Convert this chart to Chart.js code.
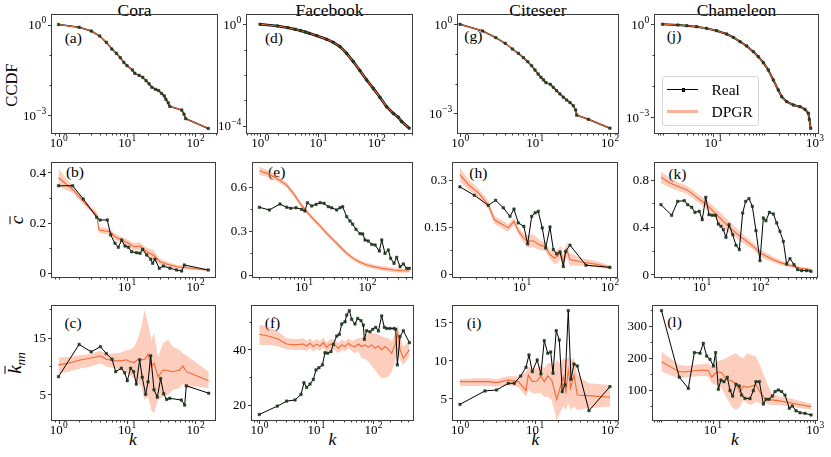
<!DOCTYPE html>
<html>
<head>
<meta charset="utf-8">
<title>Real vs DPGR degree statistics</title>
<script src="https://cdn.jsdelivr.net/npm/chart.js@4.4.1/dist/chart.umd.min.js"></script>
<style>
  html, body { margin: 0; padding: 0; background: #fff; }
  #fig { position: relative; width: 831px; height: 457px; overflow: hidden;
         font-family: "Liberation Serif", "DejaVu Serif", serif; color: #000; }
  #fig canvas { position: absolute; }
  .tt { position: absolute; top: 2px; font-size: 17.5px; line-height: 1; transform: translateX(-50%); white-space: nowrap; }
  .pl { position: absolute; font-size: 15.5px; line-height: 1; transform: translateX(-50%); }
  .yl { position: absolute; line-height: 1; white-space: nowrap; transform: translate(-50%, -50%) rotate(-90deg); }
  .xl { position: absolute; top: 431px; font-size: 17.5px; font-style: italic; line-height: 1; transform: translateX(-50%); }
  .ov { display: inline-block; border-top: 1.2px solid #000; line-height: 0.58em; }
  .ovk { display: inline-block; border-top: 1.2px solid #000; line-height: 0.9em; }
  .sub { font-size: 0.7em; position: relative; top: 0.3em; }
  #leg { position: absolute; left: 662px; top: 76px; width: 97px; height: 50px; box-sizing: border-box;
         border: 1px solid #d5d5d5; border-radius: 3px; background: rgba(255,255,255,0.85); }
  #leg div { position: absolute; }
  .lt { font-size: 15.5px; line-height: 1; }
</style>
</head>
<body>
<div id="fig">
  <div class="tt" style="left:134.5px">Cora</div>
  <div class="tt" style="left:329.5px">Facebook</div>
  <div class="tt" style="left:538px">Citeseer</div>
  <div class="tt" style="left:736.5px">Chameleon</div>

  <div class="yl" style="left:12px;top:85px;font-size:16.6px">CCDF</div>
  <div class="yl" style="left:16px;top:220px;font-size:19px"><span class="ov"><i>c</i></span></div>
  <div class="yl" style="left:14px;top:363px;font-size:19px"><span class="ovk"><i>k</i></span><i class="sub">nn</i></div>

  <div class="xl" style="left:133px">k</div>
  <div class="xl" style="left:332.5px">k</div>
  <div class="xl" style="left:535.5px">k</div>
  <div class="xl" style="left:735px">k</div>

  <div class="pl" style="left:73.3px;top:29.7px">(a)</div>
  <div class="pl" style="left:75px;top:164px">(b)</div>
  <div class="pl" style="left:73px;top:314.7px">(c)</div>
  <div class="pl" style="left:274px;top:29.7px">(d)</div>
  <div class="pl" style="left:276.7px;top:164px">(e)</div>
  <div class="pl" style="left:272.5px;top:314.7px">(f)</div>
  <div class="pl" style="left:473.3px;top:28.2px">(g)</div>
  <div class="pl" style="left:478.3px;top:165.4px">(h)</div>
  <div class="pl" style="left:474px;top:314.7px">(i)</div>
  <div class="pl" style="left:674px;top:28.2px">(j)</div>
  <div class="pl" style="left:677.5px;top:166.2px">(k)</div>
  <div class="pl" style="left:674.5px;top:314px">(l)</div>
</div>

<script>
// ---------- data ----------
// top row: CCDF (the DPGR curve lies on the real one)
const coraCcdfK = [1, 2, 3, 4, 5, 6, 7, 8, 9, 10, 12, 13, 15, 17, 19, 21, 23, 26, 29, 32, 35, 37, 40, 42, 63, 68, 72, 154];
const coraCcdfReal = [1, 0.807, 0.61, 0.417, 0.257, 0.155, 0.112, 0.08, 0.056, 0.044, 0.0316, 0.0245, 0.021, 0.018, 0.014, 0.011, 0.0085, 0.0073, 0.0066, 0.0053, 0.0044, 0.0034, 0.0026, 0.002, 0.0015, 0.0011, 0.00078, 0.00037];
const coraCcdfDpgr = coraCcdfReal;

const fbCcdfK = [1, 2, 3, 4, 5, 6, 7, 9.4, 13.9, 18.1, 23.5, 30.6, 39.8, 51.9, 67.5, 87.7, 114, 148, 194, 235, 269, 363];
const fbCcdfReal = [1, 0.857, 0.736, 0.635, 0.562, 0.497, 0.44, 0.357, 0.256, 0.195, 0.132, 0.072, 0.034, 0.0149, 0.0064, 0.003, 0.00133, 0.00057, 0.00031, 0.00022, 0.000148, 0.0000812];
const fbCcdfDpgr = fbCcdfReal;

const citeCcdfK = [1, 2, 3, 4, 5, 6, 7, 8, 9, 10, 11, 12, 13, 14, 16, 17.5, 19.4, 21.5, 23.9, 26.4, 29.3, 32.4, 34.8, 36, 51.4, 100];
const citeCcdfReal = [1, 0.594, 0.355, 0.229, 0.147, 0.105, 0.075, 0.055, 0.04, 0.0288, 0.0211, 0.0163, 0.0133, 0.0108, 0.0095, 0.0075, 0.0058, 0.0045, 0.0035, 0.0028, 0.0023, 0.0018, 0.0013, 0.00087, 0.00063, 0.000315];
const citeCcdfDpgr = citeCcdfReal;

const chamCcdfK = [1, 2, 3, 4.7, 7.4, 11.6, 18.3, 24.8, 33.6, 45.4, 61.4, 76.9, 96.6, 121, 152, 190, 222, 278, 376, 509, 638, 743, 777, 826];
const chamCcdfReal = [1, 0.95, 0.9, 0.84, 0.74, 0.62, 0.486, 0.38, 0.275, 0.2, 0.131, 0.09, 0.058, 0.0336, 0.016, 0.0076, 0.0046, 0.0032, 0.0025, 0.0022, 0.0018, 0.00135, 0.00086, 0.00044];
const chamCcdfDpgr = chamCcdfReal;

// middle row: mean clustering coefficient
const coraClustK = [1.0, 1.61, 2.3, 3.61, 4.04, 5.16, 5.78, 6.68, 7.47, 8.36, 9.35, 10.5, 11.7, 13.8, 15.5, 16.9, 19.4, 22.2, 23.7, 25.6, 29.6, 33.9, 42.4, 53.1, 62.8, 68.7, 154];
const coraClustReal = [0.347, 0.347, 0.294, 0.221, 0.21, 0.21, 0.15, 0.117, 0.101, 0.13, 0.106, 0.101, 0.083, 0.079, 0.077, 0.093, 0.07, 0.053, 0.037, 0.053, 0.017, 0.026, 0.017, 0.01, 0.006, 0.03, 0.01];
const coraClustDpgrK = [1.0, 1.64, 2.58, 3.61, 3.9, 5.65, 6.68, 8.36, 10.5, 12.4, 15.5, 19.4, 24.2, 30.3, 37.9, 53.1, 74.3, 116, 154];
const coraClustDpgr = [0.379, 0.33, 0.27, 0.23, 0.17, 0.163, 0.143, 0.13, 0.117, 0.103, 0.106, 0.083, 0.07, 0.043, 0.034, 0.023, 0.019, 0.013, 0.01];
const coraClustHi = [0.415, 0.342, 0.281, 0.241, 0.182, 0.175, 0.155, 0.143, 0.13, 0.118, 0.121, 0.099, 0.092, 0.055, 0.044, 0.031, 0.025, 0.018, 0.015];
const coraClustLo = [0.343, 0.318, 0.259, 0.219, 0.158, 0.151, 0.131, 0.117, 0.104, 0.088, 0.091, 0.067, 0.048, 0.031, 0.024, 0.015, 0.013, 0.008, 0.005];

const fbClustK = [2.0, 2.87, 4.22, 5.38, 6.22, 7.54, 9.25, 10.4, 11.4, 13.3, 15.6, 18, 20.8, 24.3, 27.4, 32.9, 37.1, 40.8, 47.2, 53.2, 58.6, 66.2, 76.5, 84.3, 91.7, 103, 117, 132, 154, 168, 189, 213, 232, 262, 288, 326, 367, 414, 456];
const fbClustReal = [0.46, 0.442, 0.482, 0.46, 0.453, 0.457, 0.446, 0.435, 0.491, 0.469, 0.48, 0.491, 0.487, 0.464, 0.457, 0.442, 0.457, 0.464, 0.396, 0.367, 0.346, 0.31, 0.281, 0.279, 0.238, 0.231, 0.208, 0.204, 0.163, 0.238, 0.147, 0.17, 0.113, 0.079, 0.12, 0.057, 0.075, 0.045, 0.045];
const fbClustDpgrK = [2.0, 2.61, 3.74, 5.38, 6.84, 8.71, 11.1, 14.1, 18, 22.9, 29.1, 37.1, 47.2, 60.1, 76.5, 97.5, 124, 178, 256, 367, 456];
const fbClustDpgr = [0.709, 0.691, 0.657, 0.611, 0.555, 0.487, 0.43, 0.38, 0.333, 0.283, 0.238, 0.192, 0.147, 0.113, 0.086, 0.068, 0.057, 0.043, 0.034, 0.029, 0.027];
const fbClustHi = [0.737, 0.715, 0.677, 0.629, 0.573, 0.504, 0.446, 0.395, 0.348, 0.298, 0.253, 0.207, 0.162, 0.128, 0.101, 0.083, 0.072, 0.059, 0.05, 0.043, 0.039];
const fbClustLo = [0.681, 0.667, 0.637, 0.593, 0.537, 0.47, 0.414, 0.365, 0.318, 0.268, 0.223, 0.177, 0.132, 0.098, 0.071, 0.053, 0.042, 0.027, 0.018, 0.015, 0.015];

const citeClustK = [1.97, 2.87, 4.14, 5.02, 6.14, 7.31, 8.11, 9.08, 10.5, 11.6, 12.9, 14.1, 15.3, 17.0, 18.6, 20.8, 22.7, 24.8, 27, 29.5, 31.3, 35.1, 53.4, 100];
const citeClustReal = [0.278, 0.251, 0.219, 0.235, 0.211, 0.184, 0.207, 0.163, 0.152, 0.096, 0.184, 0.195, 0.2, 0.147, 0.083, 0.15, 0.078, 0.064, 0.07, 0.024, 0.072, 0.092, 0.028, 0.021];
const citeClustDpgrK = [1.97, 2.46, 3.19, 4.14, 4.85, 6.99, 8.11, 9.08, 10.4, 11.6, 13.4, 16.0, 18.3, 20.8, 23.3, 25.4, 27.7, 29.5, 32.2, 35.1, 47.6, 67.6, 100];
const citeClustDpgr = [0.317, 0.285, 0.259, 0.221, 0.173, 0.147, 0.168, 0.138, 0.115, 0.104, 0.106, 0.092, 0.088, 0.062, 0.051, 0.056, 0.07, 0.038, 0.078, 0.046, 0.038, 0.032, 0.021];
const citeClustHi = [0.339, 0.301, 0.273, 0.234, 0.186, 0.159, 0.18, 0.15, 0.129, 0.124, 0.127, 0.108, 0.102, 0.076, 0.071, 0.078, 0.09, 0.058, 0.103, 0.066, 0.05, 0.042, 0.027];
const citeClustLo = [0.295, 0.269, 0.245, 0.208, 0.16, 0.135, 0.156, 0.126, 0.101, 0.084, 0.085, 0.076, 0.074, 0.048, 0.031, 0.034, 0.05, 0.018, 0.053, 0.026, 0.026, 0.022, 0.015];

const chamClustK = [1.99, 3.03, 3.84, 4.99, 5.69, 6.66, 7.59, 9.0, 10.1, 11.6, 13.2, 15.0, 17.1, 19.0, 21.1, 23.2, 25.7, 29, 33.5, 38.1, 43.5, 49.6, 55.8, 63.6, 72.5, 83.7, 98, 112, 124, 142, 166, 189, 215, 246, 280, 319, 374, 432, 506, 615, 730];
const chamClustReal = [0.59, 0.5, 0.618, 0.624, 0.59, 0.568, 0.525, 0.534, 0.463, 0.652, 0.505, 0.5, 0.5, 0.426, 0.407, 0.378, 0.313, 0.421, 0.336, 0.246, 0.209, 0.519, 0.618, 0.641, 0.576, 0.37, 0.116, 0.477, 0.454, 0.525, 0.511, 0.435, 0.364, 0.279, 0.087, 0.132, 0.082, 0.039, 0.031, 0.031, 0.025];
const chamClustDpgrK = [1.99, 2.84, 4.2, 5.47, 7.11, 9.24, 12.0, 15.6, 20.3, 26.4, 34.3, 44.6, 58, 75.4, 98, 127, 166, 215, 280, 364, 473, 730];
const chamClustDpgr = [0.822, 0.774, 0.737, 0.717, 0.675, 0.632, 0.59, 0.534, 0.477, 0.421, 0.37, 0.322, 0.279, 0.237, 0.181, 0.152, 0.124, 0.101, 0.082, 0.068, 0.053, 0.039];
const chamClustHi = [0.872, 0.814, 0.772, 0.752, 0.71, 0.667, 0.63, 0.579, 0.527, 0.471, 0.415, 0.362, 0.314, 0.267, 0.211, 0.18, 0.149, 0.121, 0.1, 0.083, 0.065, 0.049];
const chamClustLo = [0.772, 0.734, 0.702, 0.682, 0.64, 0.597, 0.55, 0.489, 0.427, 0.371, 0.325, 0.282, 0.244, 0.207, 0.151, 0.124, 0.099, 0.081, 0.064, 0.053, 0.041, 0.029];

// bottom row: average nearest-neighbour degree
const coraKnnK = [1.0, 2.0, 3.0, 4.08, 4.99, 6.04, 6.84, 8.26, 9.25, 10.1, 11.3, 12.5, 13.7, 15.3, 16.7, 18.7, 20.3, 22.2, 24.8, 27.7, 31, 34.3, 37.9, 42, 62.1, 69.5, 73.5, 156];
const coraKnnReal = [8.12, 13.8, 12.5, 13.4, 12.2, 11.2, 9.0, 9.6, 8.8, 7.4, 9.6, 9.0, 6.8, 11.1, 8.0, 5.0, 7.2, 11.8, 5.8, 4.5, 7.8, 5.1, 4.1, 4.3, 4.0, 3.1, 6.5, 5.2];
const coraKnnDpgrK = [1.0, 1.38, 2.15, 3.0, 4.08, 4.99, 6.6, 8.26, 9.78, 10.9, 12.7, 14.2, 16.2, 18.1, 20.3, 22.7, 24.8, 28.4, 33.6, 39.7, 47, 58.7, 65.7, 73.5, 97.2, 156];
const coraKnnDpgr = [10.2, 10.5, 11.1, 11.4, 11.8, 11.2, 10.9, 10.9, 11.1, 10.8, 10.6, 11.1, 11.1, 11.2, 12.1, 9.9, 10.5, 8.1, 9.3, 9.2, 9.0, 9.3, 10.0, 9.0, 8.4, 7.4];
const coraKnnHi = [11.5, 11.6, 11.9, 12.2, 12.7, 12.2, 12.2, 12.4, 12.8, 12.8, 13.4, 14.6, 16.9, 19.9, 17.5, 14.6, 15.8, 11.6, 14.0, 14.6, 13.4, 12.8, 12.2, 11.9, 10.8, 9.0];
const coraKnnLo = [8.6, 9.0, 9.6, 9.9, 10.5, 9.9, 9.6, 9.2, 9.0, 8.4, 7.8, 7.2, 6.4, 4.0, 4.6, 2.2, 1.7, 4.0, 4.6, 4.9, 5.8, 6.1, 6.9, 6.1, 6.4, 6.1];

const fbKnnK = [1.0, 2.07, 3.02, 4.23, 5.39, 6.08, 6.78, 7.75, 8.87, 9.88, 11.1, 12.8, 14.2, 15.8, 18.1, 19.9, 22.8, 25.4, 27.9, 31.9, 34.1, 38, 41.7, 47.7, 53.2, 60.8, 66.8, 69.6, 76.5, 87.5, 97.5, 110, 123, 140, 156, 172, 196, 231, 247, 264, 294, 336, 429];
const fbKnnReal = [16.6, 19.6, 21.4, 21.8, 23.8, 28.0, 26.3, 27.5, 29.2, 32.6, 33.4, 34.4, 38.8, 38.6, 39.2, 41.8, 44.8, 45.4, 49.1, 49.9, 52.3, 53.9, 50.8, 49.1, 51.1, 50.3, 48.7, 43.6, 46.7, 46.3, 47.2, 47.9, 46.6, 52.0, 47.9, 47.5, 47.5, 47.5, 47.2, 34.4, 44.6, 46.7, 42.4];
const fbKnnDpgrK = [1.0, 1.44, 2.16, 3.02, 4.23, 5.92, 6.78, 7.75, 8.87, 10.1, 11.6, 13.3, 15.2, 17.4, 20.7, 24.4, 27.9, 31.9, 36.5, 41.7, 47.7, 54.6, 62.5, 71.5, 81.8, 93.6, 107, 123, 140, 160, 184, 210, 240, 268, 294, 336, 429];
const fbKnnDpgr = [45.4, 44.8, 43.6, 41.9, 41.6, 41.9, 41.2, 42.2, 41.0, 41.9, 41.2, 42.4, 40.7, 41.9, 41.6, 40.4, 41.6, 41.0, 42.2, 41.2, 41.0, 41.9, 41.0, 41.6, 40.7, 41.6, 40.4, 41.2, 39.8, 41.0, 40.0, 38.6, 41.6, 45.8, 39.8, 36.8, 39.8];
const fbKnnHi = [48.7, 48.1, 46.3, 44.0, 43.6, 44.0, 43.0, 44.0, 42.8, 43.7, 43.0, 44.2, 42.5, 43.7, 43.4, 42.2, 43.4, 42.8, 44.0, 43.0, 43.4, 44.1, 44.0, 44.8, 45.8, 45.8, 45.8, 45.2, 44.6, 44.3, 44.0, 42.8, 45.8, 48.7, 44.6, 41.0, 42.8];
const fbKnnLo = [41.6, 41.6, 41.0, 40.0, 39.8, 39.8, 39.4, 40.4, 39.2, 40.1, 39.4, 40.6, 38.9, 40.1, 39.8, 38.6, 39.8, 39.2, 40.4, 39.4, 38.6, 39.4, 36.8, 36.5, 35.6, 34.0, 32.6, 31.0, 29.6, 29.8, 30.2, 32.0, 35.6, 39.2, 36.2, 34.4, 37.4];

const citeKnnK = [1.0, 2.15, 3.08, 4.41, 5.3, 6.44, 7.59, 8.32, 9.21, 10.7, 12.0, 13.3, 14.8, 16.2, 17.4, 19.2, 21.1, 23.1, 25.1, 27.8, 30.2, 33.1, 36.7, 52.5, 100];
const citeKnnReal = [4.2, 5.96, 6.09, 6.97, 6.97, 7.93, 9.07, 10.7, 8.5, 10.04, 8.2, 12.58, 10.92, 11.09, 8.29, 13.9, 12.67, 5.87, 6.75, 16.53, 7.5, 9.51, 9.25, 3.37, 6.53];
const citeKnnDpgrK = [1.0, 1.585, 2.39, 3.08, 4.41, 6.0, 7.59, 8.15, 9.21, 10.7, 12.0, 13.3, 14.8, 16.7, 18.1, 19.5, 21.5, 23.9, 25.9, 27.8, 29.9, 33.1, 36.7, 51.4, 100];
const citeKnnDpgr = [7.19, 7.19, 7.19, 7.06, 7.41, 7.19, 6.0, 8.07, 7.19, 7.28, 7.93, 7.19, 7.93, 7.41, 6.09, 4.86, 6.31, 7.85, 5.87, 8.72, 6.31, 8.07, 5.43, 5.35, 5.13];
const citeKnnHi = [7.54, 7.63, 7.63, 7.5, 7.93, 7.85, 8.5, 9.16, 8.94, 8.94, 9.38, 8.94, 9.6, 9.6, 9.38, 10.04, 9.6, 10.26, 10.04, 10.48, 10.04, 10.26, 8.07, 6.97, 6.75];
const citeKnnLo = [6.62, 6.62, 6.62, 6.53, 6.75, 6.44, 5.21, 6.09, 5.65, 5.65, 5.65, 5.21, 5.21, 4.78, 3.46, 2.14, 3.02, 3.9, 3.46, 4.34, 3.46, 3.9, 3.46, 3.68, 3.9];

const chamKnnK = [1.0, 2.23, 3.34, 4.38, 5.65, 6.56, 7.62, 8.85, 10.3, 11.4, 12.9, 14.5, 16.6, 19.3, 21.8, 24.5, 28.5, 33.1, 36.8, 42.7, 53.5, 62.2, 70.1, 81.5, 97.5, 110, 126, 146, 165, 191, 222, 258, 314, 359, 424, 507, 635, 832];
const chamKnnReal = [348, 140, 105, 217, 215, 246, 206, 196, 175, 217, 102, 131, 126, 140, 98, 81, 118, 112.5, 84, 74, 73, 98, 126, 126, 56, 71, 71, 81, 95, 100, 95, 84, 43, 50, 35, 29, 27, 22];
const chamKnnDpgrK = [1.0, 1.47, 2.23, 3.1, 4.38, 6.56, 8.22, 9.55, 12.0, 15.0, 18.2, 23.5, 28.5, 34.1, 39.6, 47.5, 57.7, 70.1, 86.5, 105, 142, 206, 324, 507, 832];
const chamKnnDpgr = [188.5, 173, 157, 157, 160, 162.5, 160, 140, 157, 154, 133, 129, 119, 92, 112.5, 108, 112.5, 116, 90, 74, 69, 66, 60, 54, 48];
const chamKnnHi = [220, 199, 178, 175, 178, 181, 183, 173, 188.5, 194, 199, 209, 215, 204, 199, 215, 209, 204, 173, 136, 90, 79, 74, 66, 58];
const chamKnnLo = [157, 147, 136, 140, 142, 144, 142, 121, 116, 105, 79, 48, 37.5, 48, 69, 58, 53, 63.5, 58, 58, 53, 53, 48, 43, 39.6];

// tick labels
const xTicks012 = [1, 10, 100];
const xTicks12 = [10, 100];
const xTicks13 = [10, 1000];
const ccdfTicks3 = [1, 1e-3];
const ccdfTicks4 = [1, 1e-4];
const coraClustTicks = [0, 0.2, 0.4], coraClustMinor = [0.1, 0.3];
const fbClustTicks = [0, 0.3, 0.6], fbClustMinor = [0.15, 0.45];
const citeClustTicks = [0, 0.15, 0.3], citeClustMinor = [0.075, 0.225];
const chamClustTicks = [0, 0.4, 0.8], chamClustMinor = [0.2, 0.6];
const coraKnnTicks = [5, 15], coraKnnMinor = [10, 20];
const fbKnnTicks = [20, 40], fbKnnMinor = [30, 50];
const citeKnnTicks = [5, 10, 15], citeKnnMinor = [];
const chamKnnTicks = [100, 200, 300], chamKnnMinor = [50, 150, 250, 350];

// ---------- drawing ----------
const ML = 50, MR = 14, MT = 12, MB = 30;
const GREEN = '#1f4f1f', ORANGE = '#f26a35', BAND = 'rgba(250,130,90,0.4)', AXIS = '#3c3c3c';
const FONT = '"Liberation Serif", "DejaVu Serif", serif';
const MARK = { pointStyle: 'rect', pointRadius: 1.75, pointBackgroundColor: GREEN, pointBorderColor: '#0a0a0a', pointBorderWidth: 0.4 };

const pts = (xs, ys) => xs.map((x, i) => ({ x: x, y: ys[i] }));

function logTicks(ax) {
  const a = Math.log10(ax.lo), b = Math.log10(ax.hi);
  const ms = ax.subs ? [1, 2, 3, 4, 5, 6, 7, 8, 9] : [1];
  const out = [];
  for (let e = Math.floor(a); e <= Math.ceil(b); e++) {
    ms.forEach(m => {
      const v = m * Math.pow(10, e), lv = Math.log10(v);
      if (lv < a - 1e-9 || lv > b + 1e-9) return;
      out.push({ value: v, major: ax.labels.some(l => Math.abs(Math.log10(l) - lv) < 1e-6) });
    });
  }
  return out;
}
function linTicks(ax) {
  return ax.labels.map(v => ({ value: v, major: true }))
    .concat((ax.minors || []).map(v => ({ value: v, major: false })))
    .filter(t => t.value >= ax.lo && t.value <= ax.hi)
    .sort((p, q) => p.value - q.value);
}

function supLabel(ctx, v, x, y, align) {
  const e = Math.round(Math.log10(v));
  const base = '10', ex = (e < 0 ? '\u2212' : '') + Math.abs(e);
  ctx.font = '13px ' + FONT;
  const wb = ctx.measureText(base).width;
  ctx.font = '9.5px ' + FONT;
  const we = ctx.measureText(ex).width;
  const x0 = align === 'center' ? x - (wb + we) / 2 : x - wb - we;
  ctx.textAlign = 'left';
  ctx.font = '13px ' + FONT;
  ctx.fillText(base, x0, y);
  ctx.font = '9.5px ' + FONT;
  ctx.fillText(ex, x0 + wb + 0.3, y - 5.5);
}

// box, outward ticks and tick labels, placed with the chart's own scales
const frame = {
  id: 'frame',
  afterDraw(chart) {
    const { ctx, chartArea: a } = chart;
    const xs = chart.scales.x, ys = chart.scales.y;
    ctx.save();
    ctx.strokeStyle = AXIS;
    ctx.lineWidth = 1;
    ctx.strokeRect(a.left - 0.5, a.top - 0.5, a.right - a.left + 1, a.bottom - a.top + 1);
    ctx.beginPath();
    xs.ticks.forEach(t => {
      const px = Math.round(xs.getPixelForValue(t.value)) + 0.5;
      ctx.moveTo(px, a.bottom + 0.5);
      ctx.lineTo(px, a.bottom + (t.major ? 4 : 2.5));
    });
    ys.ticks.forEach(t => {
      const py = Math.round(ys.getPixelForValue(t.value)) + 0.5;
      ctx.moveTo(a.left - 0.5, py);
      ctx.lineTo(a.left - (t.major ? 4 : 2.5), py);
    });
    ctx.stroke();
    ctx.fillStyle = '#000';
    ctx.textBaseline = 'alphabetic';
    xs.ticks.forEach(t => {
      if (t.major) supLabel(ctx, t.value, xs.getPixelForValue(t.value), a.bottom + 13.5, 'center');
    });
    ys.ticks.forEach(t => {
      if (!t.major) return;
      const py = ys.getPixelForValue(t.value);
      if (ys.type === 'logarithmic') {
        supLabel(ctx, t.value, a.left - 6, py + 4.3, 'right');
      } else {
        ctx.font = '13px ' + FONT;
        ctx.textAlign = 'right';
        ctx.fillText(String(t.value), a.left - 6, py + 4.3);
      }
    });
    ctx.restore();
  }
};

function ccdfSets(p) {
  return [
    Object.assign({ data: pts(p.k, p.real), showLine: false }, MARK),
    { data: pts(p.k, p.dpgr), borderColor: ORANGE, borderWidth: 1.1, pointRadius: 0 },
    { data: pts(p.k, p.real), borderColor: '#000', borderWidth: p.lw, pointRadius: 0 }
  ];
}
function bandSets(p) {
  return [
    Object.assign({ data: pts(p.k, p.real), borderColor: '#000', borderWidth: 1.0 }, MARK),
    { data: pts(p.dk, p.dpgr), borderColor: ORANGE, borderWidth: 1.1, pointRadius: 0 },
    { data: pts(p.dk, p.hi), borderColor: 'rgba(0,0,0,0)', borderWidth: 0, pointRadius: 0,
      fill: '+1', backgroundColor: BAND },
    { data: pts(p.dk, p.lo), borderColor: 'rgba(0,0,0,0)', borderWidth: 0, pointRadius: 0 }
  ];
}

function axis(ax, isX) {
  return {
    type: ax.log ? 'logarithmic' : 'linear',
    min: ax.lo, max: ax.hi, bounds: 'data',
    afterBuildTicks: s => { s.ticks = ax.log ? logTicks(ax) : linTicks(ax); },
    afterFit: s => { if (isX) s.height = MB; else s.width = ML; },
    ticks: { display: false },
    grid: { display: false, drawTicks: false },
    border: { display: false }
  };
}

function makePanel(p) {
  const [l, r, t, b] = p.box;
  const w = r - l, h = b - t;
  const cv = document.createElement('canvas');
  cv.width = w + ML + MR;
  cv.height = h + MT + MB;
  cv.style.left = (l - ML) + 'px';
  cv.style.top = (t - MT) + 'px';
  cv.style.width = cv.width + 'px';
  cv.style.height = cv.height + 'px';
  document.getElementById('fig').appendChild(cv);
  return new Chart(cv, {
    type: 'line',
    data: { datasets: p.ccdf ? ccdfSets(p) : bandSets(p) },
    options: {
      responsive: false,
      animation: false,
      events: [],
      layout: { padding: { top: MT, right: MR, bottom: 0, left: 0 } },
      plugins: { legend: { display: false }, tooltip: { enabled: false } },
      scales: { x: axis(p.x, true), y: axis(p.y, false) }
    },
    plugins: [frame]
  });
}

const panels = [
  // CCDF row
  { box: [52, 217, 15, 133], ccdf: true, lw: 1.5, k: coraCcdfK, real: coraCcdfReal, dpgr: coraCcdfDpgr,
    x: { log: true, subs: true, lo: 10 ** -0.095, hi: 10 ** 2.314, labels: xTicks012 },
    y: { log: true, lo: 10 ** -3.581, hi: 10 ** 0.314, labels: ccdfTicks3 } },
  { box: [247, 412, 15, 133], ccdf: true, lw: 2.6, k: fbCcdfK, real: fbCcdfReal, dpgr: fbCcdfDpgr,
    x: { log: true, subs: true, lo: 10 ** -0.223, hi: 10 ** 2.607, labels: xTicks012 },
    y: { log: true, lo: 10 ** -4.28, hi: 10 ** 0.366, labels: ccdfTicks4 } },
  { box: [458, 618, 15, 133], ccdf: true, lw: 1.5, k: citeCcdfK, real: citeCcdfReal, dpgr: citeCcdfDpgr,
    x: { log: true, subs: true, lo: 10 ** -0.027, hi: 10 ** 2.107, labels: xTicks012 },
    y: { log: true, lo: 10 ** -3.664, hi: 10 ** 0.313, labels: ccdfTicks3 } },
  { box: [655, 818, 15, 133], ccdf: true, lw: 2.0, k: chamCcdfK, real: chamCcdfReal, dpgr: chamCcdfDpgr,
    x: { log: true, subs: true, lo: 10 ** -0.148, hi: 10 ** 3.061, labels: xTicks13 },
    y: { log: true, lo: 10 ** -3.506, hi: 10 ** 0.3, labels: ccdfTicks3 } },
  // clustering row
  { box: [52, 215, 163, 277], k: coraClustK, real: coraClustReal, dk: coraClustDpgrK, dpgr: coraClustDpgr, hi: coraClustHi, lo: coraClustLo,
    x: { log: true, subs: true, lo: 10 ** -0.095, hi: 10 ** 2.285, labels: xTicks12 },
    y: { lo: -0.018, hi: 0.438, labels: coraClustTicks, minors: coraClustMinor } },
  { box: [253, 412, 163, 277], k: fbClustK, real: fbClustReal, dk: fbClustDpgrK, dpgr: fbClustDpgr, hi: fbClustHi, lo: fbClustLo,
    x: { log: true, subs: true, lo: 10 ** 0.201, hi: 10 ** 2.701, labels: xTicks12 },
    y: { lo: -0.0136, hi: 0.761, labels: fbClustTicks, minors: fbClustMinor } },
  { box: [453, 617, 163, 277], k: citeClustK, real: citeClustReal, dk: citeClustDpgrK, dpgr: citeClustDpgr, hi: citeClustHi, lo: citeClustLo,
    x: { log: true, subs: true, lo: 10 ** 0.216, hi: 10 ** 2.08, labels: xTicks12 },
    y: { lo: -0.0096, hi: 0.354, labels: citeClustTicks, minors: citeClustMinor } },
  { box: [655, 817, 163, 277], k: chamClustK, real: chamClustReal, dk: chamClustDpgrK, dpgr: chamClustDpgr, hi: chamClustHi, lo: chamClustLo,
    x: { log: true, subs: true, lo: 10 ** 0.197, hi: 10 ** 2.966, labels: xTicks12 },
    y: { lo: -0.023, hi: 0.943, labels: chamClustTicks, minors: chamClustMinor } },
  // knn row
  { box: [52, 215, 306, 420], k: coraKnnK, real: coraKnnReal, dk: coraKnnDpgrK, dpgr: coraKnnDpgr, hi: coraKnnHi, lo: coraKnnLo,
    x: { log: true, subs: true, lo: 10 ** -0.095, hi: 10 ** 2.285, labels: xTicks012 },
    y: { lo: 0.476, hi: 20.58, labels: coraKnnTicks, minors: coraKnnMinor } },
  { box: [252, 413, 306, 420], k: fbKnnK, real: fbKnnReal, dk: fbKnnDpgrK, dpgr: fbKnnDpgr, hi: fbKnnHi, lo: fbKnnLo,
    x: { log: true, subs: true, lo: 10 ** -0.128, hi: 10 ** 2.696, labels: xTicks012 },
    y: { lo: 14.61, hi: 55.57, labels: fbKnnTicks, minors: fbKnnMinor } },
  { box: [453, 618, 306, 420], k: citeKnnK, real: citeKnnReal, dk: citeKnnDpgrK, dpgr: citeKnnDpgr, hi: citeKnnHi, lo: citeKnnLo,
    x: { log: true, subs: true, lo: 10 ** -0.093, hi: 10 ** 2.107, labels: xTicks012 },
    y: { lo: 2.14, hi: 17.14, labels: citeKnnTicks, minors: citeKnnMinor } },
  { box: [653, 817, 306, 420], k: chamKnnK, real: chamKnnReal, dk: chamKnnDpgrK, dpgr: chamKnnDpgr, hi: chamKnnHi, lo: chamKnnLo,
    x: { log: true, subs: true, lo: 10 ** -0.166, hi: 10 ** 3.037, labels: xTicks13 },
    y: { lo: 6.25, hi: 362.5, labels: chamKnnTicks, minors: chamKnnMinor } }
];

panels.forEach(makePanel);

// legend inside the Chameleon CCDF panel
const leg = document.createElement('div');
leg.id = 'leg';
leg.innerHTML =
  '<div style="left:4px;top:11.8px;width:31px;height:1.4px;background:#000"></div>' +
  '<div style="left:18.5px;top:11px;width:3.5px;height:3.5px;box-sizing:border-box;background:' + GREEN + ';border:0.5px solid #000"></div>' +
  '<div class="lt" style="left:48.5px;top:4.6px">Real</div>' +
  '<div style="left:4px;top:33.2px;width:31px;height:2.5px;background:#fcb296"></div>' +
  '<div class="lt" style="left:48.5px;top:26.6px">DPGR</div>';
document.getElementById('fig').appendChild(leg);
</script>
</body>
</html>
